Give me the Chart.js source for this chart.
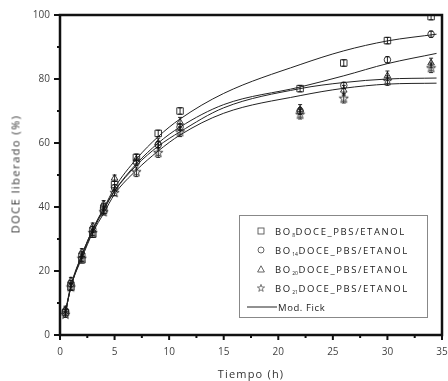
<!DOCTYPE html>
<html>
<head>
<meta charset="utf-8">
<script src="https://cdn.jsdelivr.net/npm/chart.js@4.4.1/dist/chart.umd.min.js"></script>
<style>
  body { margin: 0; background: #fff; }
  #wrap { position: relative; width: 448px; height: 381px; overflow: hidden; font-family: "Open Sans", sans-serif; color: #333; }
  #releaseChart { position: absolute; left: 0; top: 0; }
  .axis-title { position: absolute; font-size: 11px; letter-spacing: 1.2px; white-space: nowrap; }
  #xTitle { left: 0; width: 502px; top: 366px; text-align: center; }
  #yTitle { left: 15px; top: 174px; transform: translate(-50%, -50%) rotate(-90deg); letter-spacing: 1.5px; }
  #legend { position: absolute; left: 239px; top: 215px; width: 189px; height: 103px; border: 1px solid #888; box-sizing: border-box; }
  .row { position: absolute; left: 0; height: 14px; display: flex; align-items: center; font-size: 9.5px; letter-spacing: 1.6px; white-space: nowrap; color: #222; }
  .row svg { margin-left: 17px; margin-right: 10px; }
  .row .sub { font-size: 5px; letter-spacing: 0; position: relative; top: 4px; margin: 0 0.5px; }
  .row.fick { letter-spacing: 0.6px; }
  .row.fick svg { margin-left: 7px; margin-right: 1px; }
</style>
</head>
<body>
<div id="wrap">
  <canvas id="releaseChart" width="448" height="381"></canvas>
  <div class="axis-title" id="xTitle">Tiempo (h)</div>
  <div class="axis-title" id="yTitle">DOCE liberado (%)</div>
  <div id="legend">
    <div class="row" style="top:8px"><svg width="8" height="8"><rect x="1" y="1" width="6" height="6" fill="none" stroke="#555" stroke-width="0.9"/></svg>BO<span class="sub">8</span>DOCE_PBS/ETANOL</div>
    <div class="row" style="top:27px"><svg width="8" height="8"><circle cx="4" cy="4" r="3" fill="none" stroke="#555" stroke-width="0.9"/></svg>BO<span class="sub">14</span>DOCE_PBS/ETANOL</div>
    <div class="row" style="top:46px"><svg width="8" height="8"><polygon points="4,0.8 7.4,7 0.6,7" fill="none" stroke="#555" stroke-width="0.9"/></svg>BO<span class="sub">20</span>DOCE_PBS/ETANOL</div>
    <div class="row" style="top:65px"><svg width="8" height="8"><polygon points="4,0.4 4.9,3 7.6,3 5.4,4.7 6.2,7.4 4,5.8 1.8,7.4 2.6,4.7 0.4,3 3.1,3" fill="none" stroke="#555" stroke-width="0.8"/></svg>BO<span class="sub">21</span>DOCE_PBS/ETANOL</div>
    <div class="row fick" style="top:84px"><svg width="30" height="8"><line x1="0" y1="4" x2="30" y2="4" stroke="#222" stroke-width="1"/></svg>Mod. Fick</div>
  </div>
</div>
<script>
// Sampling times (h)
const times = [0.5, 1, 2, 3, 4, 5, 7, 9, 11, 22, 26, 30, 34];

// Measured release (%) for each formulation
const bo8 = [7, 15, 23.5, 31.5, 39, 47, 55.5, 63, 70, 77, 85, 92, 99.5];
const bo14 = [7.5, 16, 25, 33, 40, 46, 54, 59.5, 65, 70, 78, 86, 94];
const bo20 = [8, 17, 26, 34, 41, 49, 55, 60, 66.5, 70.5, 76.5, 81, 85];
const bo21 = [6.5, 15, 24, 32, 38.5, 44.5, 51, 57, 63.5, 69, 74, 79.5, 83.5];

// Error bars (±%)
const bo8Err = [1, 1, 1, 1, 1, 1, 1, 1, 1, 1, 1, 1, 1];
const bo14Err = [1, 1, 1, 1, 1, 1, 1, 1, 1, 1, 1, 1, 1];
const bo20Err = [1, 1, 1, 1, 1, 1, 1.5, 1.5, 1.5, 1.5, 1.5, 1.5, 1.5];
const bo21Err = [1, 1, 1, 1, 1, 1, 1.5, 1.5, 1.5, 1.5, 1.5, 1.5, 1.5];

// Fitted Fick model curves, sampled along the time axis
const fitTimes = [0.5, 1, 2, 3, 4, 5, 7, 9, 11, 15, 22, 26, 30, 34.5];
const fit8 = [7, 15, 25, 33, 39.5, 46, 55, 62, 67.5, 75.5, 84.5, 88.8, 91.9, 94];
const fit14 = [7, 15, 24.5, 32.5, 39, 45, 53.5, 60, 65, 72, 77.5, 81, 84.8, 88];
const fit20 = [7.5, 15.5, 25, 33, 39.5, 45, 53, 59, 63.5, 71, 77, 78.9, 80, 80.3];
const fit21 = [7, 15, 24, 32, 38, 44, 51.5, 57.5, 62.5, 69.3, 74.8, 77.1, 78.4, 78.7];

const xTicks = [0, 5, 10, 15, 20, 25, 30, 35];
const yTicks = [0, 20, 40, 60, 80, 100];

const pairs = (xs, ys) => xs.map((x, i) => ({ x: x, y: ys[i] }));

// Outlined five-point star used as a point style
function starImage() {
    const c = document.createElement('canvas');
    c.width = 11; c.height = 11;
    const g = c.getContext('2d');
    g.beginPath();
    for (let i = 0; i < 10; i++) {
        const r = i % 2 === 0 ? 4.8 : 2;
        const a = -Math.PI / 2 + i * Math.PI / 5;
        const px = 5.5 + r * Math.cos(a), py = 5.8 + r * Math.sin(a);
        i === 0 ? g.moveTo(px, py) : g.lineTo(px, py);
    }
    g.closePath();
    g.strokeStyle = '#222';
    g.lineWidth = 0.9;
    g.stroke();
    return c;
}

const fitLine = (data) => ({
    type: 'line',
    data: pairs(fitTimes, data),
    borderColor: '#222',
    borderWidth: 1,
    pointRadius: 0,
    cubicInterpolationMode: 'monotone',
    fill: false
});

const markers = (data, err, style, radius) => ({
    type: 'scatter',
    data: pairs(times, data),
    errors: err,
    pointStyle: style,
    radius: radius,
    borderColor: '#222',
    backgroundColor: 'rgba(0,0,0,0)',
    borderWidth: 0.9
});

// Frame, outward ticks and error bars
const framePlugin = {
    id: 'frame',
    afterDatasetsDraw(chart) {
        const { ctx, chartArea: a, scales: { x, y } } = chart;
        ctx.save();
        ctx.strokeStyle = '#111';

        // error bars
        ctx.lineWidth = 0.9;
        chart.data.datasets.forEach(ds => {
            if (!ds.errors) return;
            ds.data.forEach((p, i) => {
                const px = x.getPixelForValue(p.x);
                const lo = y.getPixelForValue(p.y - ds.errors[i]);
                const hi = y.getPixelForValue(Math.min(p.y + ds.errors[i], 100));
                ctx.beginPath();
                ctx.moveTo(px, lo); ctx.lineTo(px, hi);
                ctx.moveTo(px - 2, lo); ctx.lineTo(px + 2, lo);
                ctx.moveTo(px - 2, hi); ctx.lineTo(px + 2, hi);
                ctx.stroke();
            });
        });

        // box
        ctx.lineWidth = 2.5;
        ctx.strokeRect(a.left, a.top, a.right - a.left, a.bottom - a.top);

        // ticks
        ctx.lineWidth = 2;
        ctx.beginPath();
        for (let v = 0; v <= 35; v += 2.5) {
            const px = x.getPixelForValue(v);
            const len = v % 5 === 0 ? 5 : 3;
            ctx.moveTo(px, a.bottom); ctx.lineTo(px, a.bottom + len);
        }
        for (let v = 0; v <= 100; v += 10) {
            const py = y.getPixelForValue(v);
            const len = v % 20 === 0 ? 6 : 3;
            ctx.moveTo(a.left, py); ctx.lineTo(a.left - len, py);
        }
        ctx.stroke();
        ctx.restore();
    }
};

const ctx = document.getElementById('releaseChart').getContext('2d');

new Chart(ctx, {
    data: {
        datasets: [
            fitLine(fit8), fitLine(fit14), fitLine(fit20), fitLine(fit21),
            markers(bo8, bo8Err, 'rect', 4.6),
            markers(bo14, bo14Err, 'circle', 3.3),
            markers(bo20, bo20Err, 'triangle', 3.8),
            markers(bo21, bo21Err, starImage(), 4)
        ]
    },
    options: {
        responsive: false,
        animation: false,
        layout: { padding: { top: 15, right: 6, left: 0, bottom: 0 } },
        plugins: {
            legend: { display: false },
            tooltip: { enabled: false }
        },
        scales: {
            x: {
                type: 'linear',
                min: 0,
                max: 35,
                afterBuildTicks: (s) => { s.ticks = xTicks.map(v => ({ value: v })); },
                // keep the last label from shrinking the plot; it runs off the edge
                afterFit: (s) => { s.height = 46; s.paddingRight = 0; s.paddingLeft = 0; },
                grid: { display: false, drawTicks: false },
                border: { display: false },
                ticks: { color: '#444', padding: 11, font: { family: 'Open Sans', size: 10 } }
            },
            y: {
                type: 'linear',
                min: 0,
                max: 100,
                afterBuildTicks: (s) => { s.ticks = yTicks.map(v => ({ value: v })); },
                afterFit: (s) => { s.width = 60; s.paddingTop = 0; s.paddingBottom = 0; },
                grid: { display: false, drawTicks: false },
                border: { display: false },
                ticks: { color: '#444', padding: 10, font: { family: 'Open Sans', size: 10 } }
            }
        }
    },
    plugins: [framePlugin]
});
</script>
</body>
</html>
